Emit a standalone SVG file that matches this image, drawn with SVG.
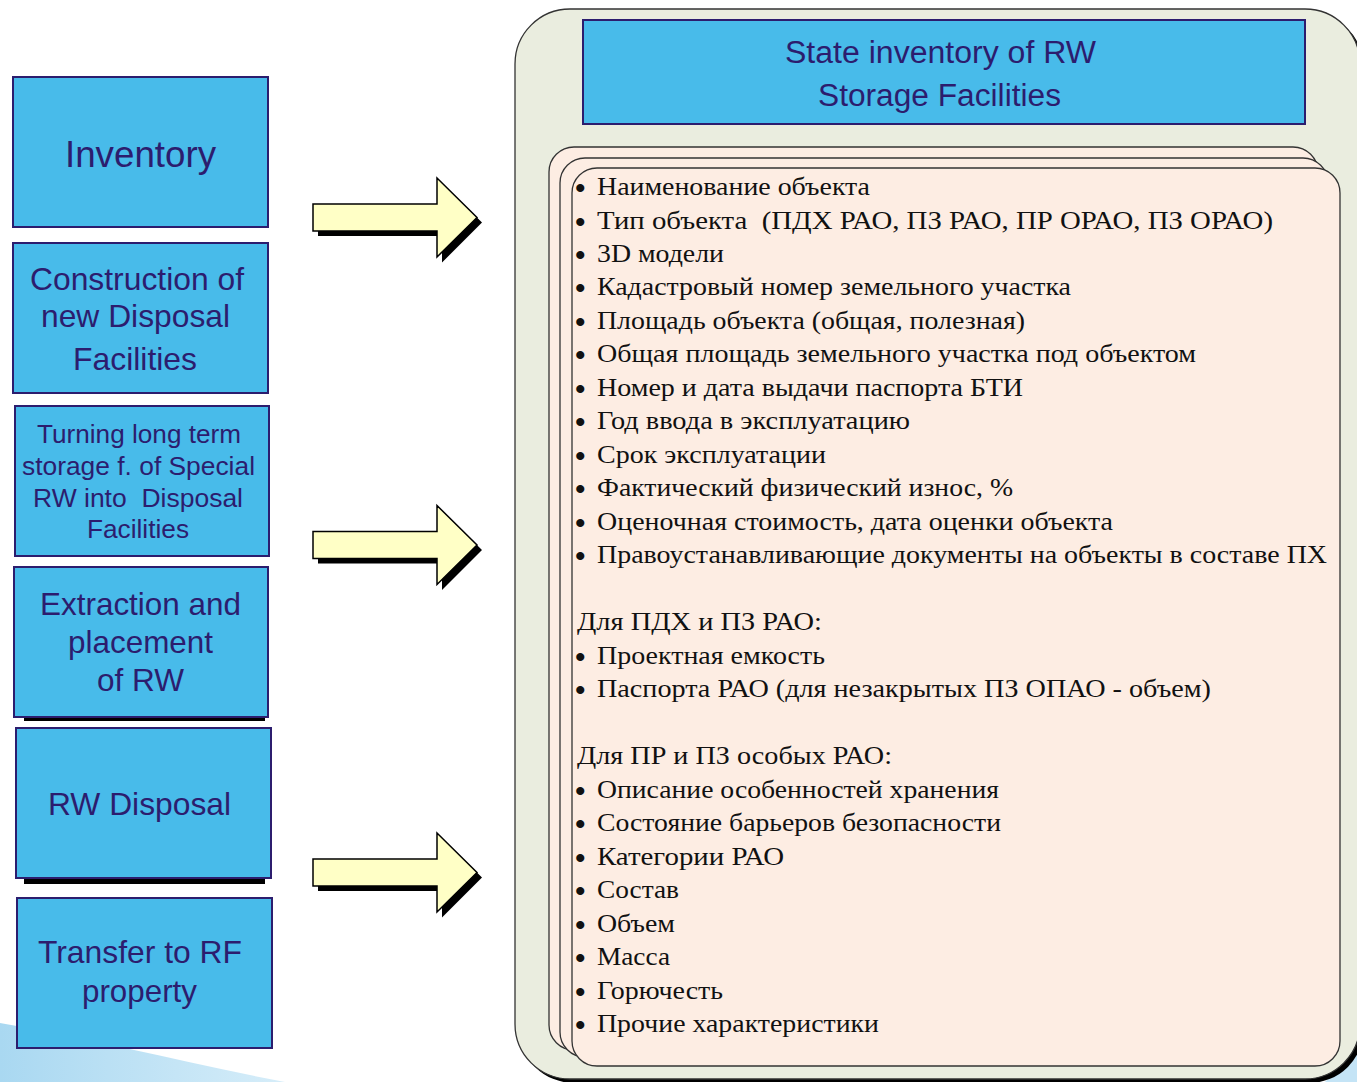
<svg xmlns="http://www.w3.org/2000/svg" width="1357" height="1082" viewBox="0 0 1357 1082">
<style>
.box{fill:#48bbea;stroke:#2c1d6e;stroke-width:2}
.shadow{fill:#000}
.lbl{font-family:"Liberation Sans",Arial,sans-serif;fill:#2c1d6e;white-space:pre}
.arrow{fill:#ffffc6;stroke:#000;stroke-width:1.5;stroke-linejoin:miter}
.ru{font-family:"Liberation Serif","Times New Roman",serif;font-size:25.5px;fill:#111;white-space:pre}
.b{font-size:30px;font-weight:bold}
.card{fill:#fdede3;stroke:#333;stroke-width:1.3}
</style>
<defs>
<linearGradient id="sw" x1="0" y1="0" x2="1" y2="0">
<stop offset="0" stop-color="#a9d8f1"/>
<stop offset="1" stop-color="#d6edf9"/>
</linearGradient>
</defs>
<rect width="1357" height="1082" fill="#fff"/>
<path d="M0,1023 C90,1038 190,1064 285,1082 L0,1082 Z" fill="url(#sw)"/>
<path d="M1325,1082 L1357,1045 L1357,1082 Z" fill="#c4e4f6"/>

<g id="panel">
<rect x="519" y="13" width="845" height="1070" rx="55" class="shadow"/>
<rect x="515" y="9" width="845" height="1070" rx="55" fill="#eaeddf" stroke="#333" stroke-width="1.3"/>
<g id="title">
<rect x="583" y="20" width="722" height="104" class="box"/>
<text class="lbl" x="785" y="63" font-size="31" textLength="311" lengthAdjust="spacingAndGlyphs">State inventory of RW</text>
<text class="lbl" x="818" y="106" font-size="31" textLength="243" lengthAdjust="spacingAndGlyphs">Storage Facilities</text>
</g>
<g id="cards">
<rect x="549" y="147" width="769" height="903" rx="25" class="card" stroke="#555"/>
<rect x="560" y="158" width="768" height="899" rx="25" class="card" stroke="#555"/>
<rect x="572" y="168" width="768" height="898" rx="25" class="card" stroke="#111"/>
</g>
<g id="list">
<text class="ru" y="195"><tspan class="b" x="575" dy="3">•</tspan><tspan x="597" dy="-3" textLength="273" lengthAdjust="spacingAndGlyphs">Наименование объекта</tspan></text>
<text class="ru" y="228.5"><tspan class="b" x="575" dy="3">•</tspan><tspan x="597" dy="-3" textLength="676" lengthAdjust="spacingAndGlyphs">Тип объекта  (ПДХ РАО, ПЗ РАО, ПР ОРАО, ПЗ ОРАО)</tspan></text>
<text class="ru" y="262"><tspan class="b" x="575" dy="3">•</tspan><tspan x="597" dy="-3" textLength="127" lengthAdjust="spacingAndGlyphs">3D модели</tspan></text>
<text class="ru" y="295.4"><tspan class="b" x="575" dy="3">•</tspan><tspan x="597" dy="-3" textLength="474" lengthAdjust="spacingAndGlyphs">Кадастровый номер земельного участка</tspan></text>
<text class="ru" y="328.9"><tspan class="b" x="575" dy="3">•</tspan><tspan x="597" dy="-3" textLength="428" lengthAdjust="spacingAndGlyphs">Площадь объекта (общая, полезная)</tspan></text>
<text class="ru" y="362.4"><tspan class="b" x="575" dy="3">•</tspan><tspan x="597" dy="-3" textLength="599" lengthAdjust="spacingAndGlyphs">Общая площадь земельного участка под объектом</tspan></text>
<text class="ru" y="395.9"><tspan class="b" x="575" dy="3">•</tspan><tspan x="597" dy="-3" textLength="426" lengthAdjust="spacingAndGlyphs">Номер и дата выдачи паспорта БТИ</tspan></text>
<text class="ru" y="429.4"><tspan class="b" x="575" dy="3">•</tspan><tspan x="597" dy="-3" textLength="313" lengthAdjust="spacingAndGlyphs">Год ввода в эксплуатацию</tspan></text>
<text class="ru" y="462.8"><tspan class="b" x="575" dy="3">•</tspan><tspan x="597" dy="-3" textLength="229" lengthAdjust="spacingAndGlyphs">Срок эксплуатации</tspan></text>
<text class="ru" y="496.3"><tspan class="b" x="575" dy="3">•</tspan><tspan x="597" dy="-3" textLength="416" lengthAdjust="spacingAndGlyphs">Фактический физический износ, %</tspan></text>
<text class="ru" y="529.8"><tspan class="b" x="575" dy="3">•</tspan><tspan x="597" dy="-3" textLength="516" lengthAdjust="spacingAndGlyphs">Оценочная стоимость, дата оценки объекта</tspan></text>
<text class="ru" y="563.3"><tspan class="b" x="575" dy="3">•</tspan><tspan x="597" dy="-3" textLength="730" lengthAdjust="spacingAndGlyphs">Правоустанавливающие документы на объекты в составе ПХ</tspan></text>
<text class="ru" x="577" y="630.2" textLength="245" lengthAdjust="spacingAndGlyphs">Для ПДХ и ПЗ РАО:</text>
<text class="ru" y="663.7"><tspan class="b" x="575" dy="3">•</tspan><tspan x="597" dy="-3" textLength="228" lengthAdjust="spacingAndGlyphs">Проектная емкость</tspan></text>
<text class="ru" y="697.2"><tspan class="b" x="575" dy="3">•</tspan><tspan x="597" dy="-3" textLength="614" lengthAdjust="spacingAndGlyphs">Паспорта РАО (для незакрытых ПЗ ОПАО - объем)</tspan></text>
<text class="ru" x="577" y="764.2" textLength="315" lengthAdjust="spacingAndGlyphs">Для ПР и ПЗ особых РАО:</text>
<text class="ru" y="797.6"><tspan class="b" x="575" dy="3">•</tspan><tspan x="597" dy="-3" textLength="402" lengthAdjust="spacingAndGlyphs">Описание особенностей хранения</tspan></text>
<text class="ru" y="831.1"><tspan class="b" x="575" dy="3">•</tspan><tspan x="597" dy="-3" textLength="404" lengthAdjust="spacingAndGlyphs">Состояние барьеров безопасности</tspan></text>
<text class="ru" y="864.6"><tspan class="b" x="575" dy="3">•</tspan><tspan x="597" dy="-3" textLength="187" lengthAdjust="spacingAndGlyphs">Категории РАО</tspan></text>
<text class="ru" y="898.1"><tspan class="b" x="575" dy="3">•</tspan><tspan x="597" dy="-3" textLength="82" lengthAdjust="spacingAndGlyphs">Состав</tspan></text>
<text class="ru" y="931.6"><tspan class="b" x="575" dy="3">•</tspan><tspan x="597" dy="-3" textLength="78" lengthAdjust="spacingAndGlyphs">Объем</tspan></text>
<text class="ru" y="965"><tspan class="b" x="575" dy="3">•</tspan><tspan x="597" dy="-3" textLength="73" lengthAdjust="spacingAndGlyphs">Масса</tspan></text>
<text class="ru" y="998.5"><tspan class="b" x="575" dy="3">•</tspan><tspan x="597" dy="-3" textLength="126" lengthAdjust="spacingAndGlyphs">Горючесть</tspan></text>
<text class="ru" y="1032"><tspan class="b" x="575" dy="3">•</tspan><tspan x="597" dy="-3" textLength="282" lengthAdjust="spacingAndGlyphs">Прочие характеристики</tspan></text>
</g>
</g>

<g id="inventory">
<rect x="13" y="77" width="255" height="150" class="box"/>
<text class="lbl" x="65" y="167" font-size="37" textLength="151" lengthAdjust="spacingAndGlyphs">Inventory</text>
</g>
<g id="construction">
<rect x="13" y="243" width="255" height="150" class="box"/>
<text class="lbl" x="30" y="290" font-size="32" textLength="214" lengthAdjust="spacingAndGlyphs">Construction of</text>
<text class="lbl" x="41" y="327" font-size="32" textLength="189" lengthAdjust="spacingAndGlyphs">new Disposal</text>
<text class="lbl" x="73" y="370" font-size="32" textLength="124" lengthAdjust="spacingAndGlyphs">Facilities</text>
</g>
<g id="turning">
<rect x="15" y="406" width="254" height="150" class="box"/>
<text class="lbl" x="37" y="443" font-size="26" textLength="204" lengthAdjust="spacingAndGlyphs">Turning long term</text>
<text class="lbl" x="22" y="475" font-size="26" textLength="233" lengthAdjust="spacingAndGlyphs">storage f. of Special</text>
<text class="lbl" x="33" y="507" font-size="26" textLength="210" lengthAdjust="spacingAndGlyphs">RW into  Disposal</text>
<text class="lbl" x="87" y="538" font-size="26" textLength="102" lengthAdjust="spacingAndGlyphs">Facilities</text>
</g>
<g id="extraction">
<rect x="24" y="716" width="241" height="5" class="shadow"/>
<rect x="14" y="567" width="254" height="150" class="box"/>
<text class="lbl" x="40" y="615" font-size="32" textLength="201" lengthAdjust="spacingAndGlyphs">Extraction and</text>
<text class="lbl" x="68" y="653" font-size="32" textLength="145" lengthAdjust="spacingAndGlyphs">placement</text>
<text class="lbl" x="97" y="691" font-size="32" textLength="87" lengthAdjust="spacingAndGlyphs">of RW</text>
</g>
<g id="disposal">
<rect x="24" y="877" width="241" height="7" class="shadow"/>
<rect x="16" y="728" width="255" height="150" class="box"/>
<text class="lbl" x="48" y="815" font-size="32" textLength="183" lengthAdjust="spacingAndGlyphs">RW Disposal</text>
</g>
<g id="transfer">
<rect x="17" y="898" width="255" height="150" class="box"/>
<text class="lbl" x="38" y="963" font-size="32" textLength="204" lengthAdjust="spacingAndGlyphs">Transfer to RF</text>
<text class="lbl" x="82" y="1002" font-size="32" textLength="115" lengthAdjust="spacingAndGlyphs">property</text>
</g>

<g id="connectors">
<g transform="translate(0,217.5)">
<polygon points="318,-8.5 442,-8.5 442,-34.5 482,5 442,45 442,18.5 318,18.5" class="shadow"/>
<polygon points="313,-13.5 437,-13.5 437,-39.5 477,0 437,39.5 437,13.5 313,13.5" class="arrow"/>
</g>
<g transform="translate(0,545)">
<polygon points="318,-8.5 442,-8.5 442,-34.5 482,5 442,45 442,18.5 318,18.5" class="shadow"/>
<polygon points="313,-13.5 437,-13.5 437,-39.5 477,0 437,39.5 437,13.5 313,13.5" class="arrow"/>
</g>
<g transform="translate(0,872.5)">
<polygon points="318,-8.5 442,-8.5 442,-34.5 482,5 442,45 442,18.5 318,18.5" class="shadow"/>
<polygon points="313,-13.5 437,-13.5 437,-39.5 477,0 437,39.5 437,13.5 313,13.5" class="arrow"/>
</g>
</g>
</svg>
